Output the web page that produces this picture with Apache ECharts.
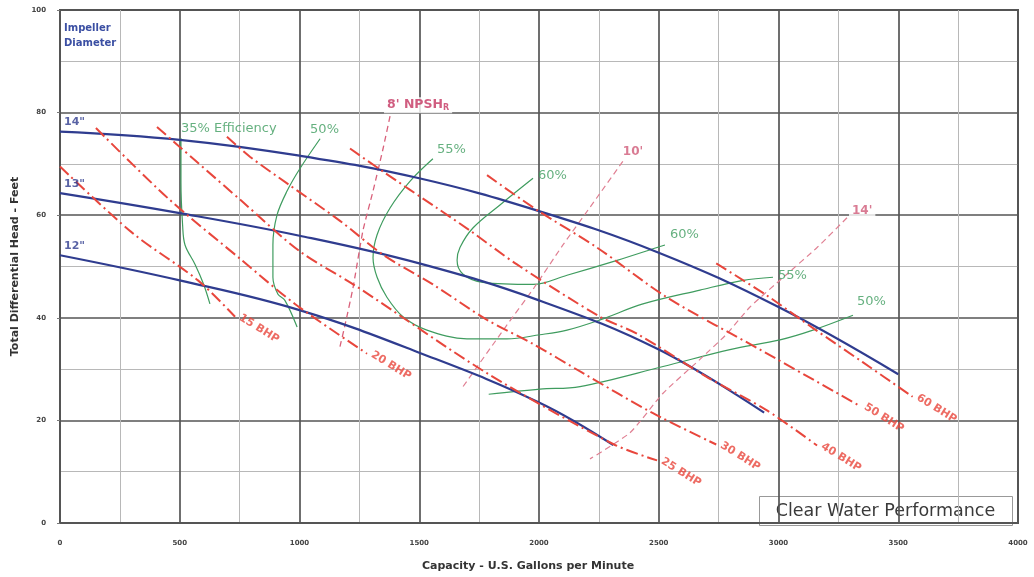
<!DOCTYPE html>
<html><head><meta charset="utf-8">
<script src="https://cdn.jsdelivr.net/npm/echarts/dist/echarts.min.js"></script>
<style>html,body{margin:0;padding:0;background:#fff}#c{width:1034px;height:577px}</style>
</head><body><div id="c"></div><script>
// ---- Impeller diameter head curves [gpm, ft] ----
const imp14 = [[0,76.3],[500,74.7],[1000,71.6],[1500,67.2],[2000,60.8],[2500,52.7],[3000,42.1],[3500,29.0]];
const imp13 = [[0,64.3],[500,60.4],[1000,56.0],[1500,50.6],[2000,43.4],[2500,33.8],[2940,21.5]];
const imp12 = [[0,52.2],[500,47.3],[1000,41.5],[1500,33.2],[2000,23.5],[2310,15.2]];
const impNames = ['14"', '13"', '12"'];

// ---- BHP lines ----
const bhp15 = [[0,69.5],[301,56.6],[576,47.3],[731,40.2]];
const bhp20 = [[150,77.0],[451,63.3],[760,51.2],[981,42.7],[1282,33.0]];
const bhp25 = [[405,77.2],[760,62.7],[1000,53.0],[1232,46.3],[1783,29.2],[2309,15.4],[2493,12.2]];
const bhp30 = [[697,75.3],[793,71.4],[948,66.2],[1169,58.9],[1349,52.3],[1557,46.5],[1783,39.6],[1975,34.9],[2184,29.2],[2476,21.4],[2740,15.3]];
const bhp40 = [[1211,73.0],[1349,68.5],[1574,61.4],[1712,57.0],[1908,50.4],[2255,40.2],[2409,36.9],[2700,28.5],[2950,22.0],[3161,15.1]];
const bhp50 = [[1783,67.8],[1992,61.0],[2242,53.7],[2534,44.0],[2923,33.8],[3340,22.8]];
const bhp60 = [[2740,50.6],[2950,44.4],[3150,37.8],[3350,31.4],[3560,24.6]];
const bhpNames = ['15 BHP','20 BHP','25 BHP','30 BHP','40 BHP','50 BHP','60 BHP'];

// ---- NPSHr lines ----
const npsh8  = [[1378,79.3],[1349,73.0],[1307,64.7],[1265,57.0],[1224,46.0],[1190,38.6],[1169,34.4]];
const npsh10 = [[2350,70.5],[2240,63.3],[2100,54.2],[1980,45.9],[1860,38.2],[1683,26.6]];
const npsh14 = [[3286,59.5],[3161,53.7],[3035,48.5],[2881,42.1],[2785,36.9],[2672,31.9],[2518,25.3],[2380,17.6],[2213,12.5]];

// ---- Efficiency curves ----
const eff35  = [[505,75.0],[505,66.5],[512,58.0],[522,54.2],[564,50.4],[600,46.5],[626,42.7]];
const eff50a = [[1086,74.9],[1002,69.1],[948,64.7],[906,60.0],[889,54.2],[889,47.9],[910,44.6],[939,43.4],[990,38.2]];
const eff50b = [[1790,25.1],[2004,26.1],[2171,26.6],[2518,30.5],[2797,33.8],[3006,35.7],[3144,37.6],[3311,40.5]];
const eff55  = [[1557,71.0],[1461,66.6],[1378,61.4],[1324,56.2],[1307,51.7],[1324,47.9],[1365,44.0],[1432,40.2],[1532,37.6],[1699,35.9],[1866,35.9],[2004,36.7],[2117,37.6],[2255,39.6],[2434,42.7],[2672,45.4],[2852,47.3],[2977,47.9]];
const eff60  = [[1975,67.2],[1837,62.0],[1724,57.5],[1670,53.7],[1658,51.2],[1683,48.5],[1766,46.9],[1975,46.5],[2117,48.3],[2326,51.2],[2493,53.7],[2526,54.2]];

const FONT = '"DejaVu Sans", "Liberation Sans", Arial, sans-serif';
const BLUE = '#2f3c8f', RED = '#e8463c', GREEN = '#3f9c5f', PINK = '#e07f92', CRIMSON = '#c43560';

function curve(data, color, width, type, z, smooth) {
  return {type:'line', data:data, showSymbol:false, symbol:'none', smooth:smooth, z:z, silent:true,
          animation:false, lineStyle:{color:color, width:width, type:type}};
}
function lbl(pt, text, style) {
  return {value: pt, label: Object.assign({show:true, formatter:text, fontFamily:FONT}, style)};
}

const series = [];
[eff35, eff50a, eff50b, eff55, eff60].forEach(c => series.push(curve(c, GREEN, 1.2, 'solid', 1, 0.35)));
series.push(curve(npsh8, '#d9607a', 1.3, [6,4], 1, 0.2));
series.push(curve(npsh10, PINK, 1.2, [6,4], 1, 0.2));
series.push(curve(npsh14, PINK, 1.2, [6,4], 1, 0.2));
[imp14, imp13, imp12].forEach(c => series.push(curve(c, BLUE, 2.2, 'solid', 3, 0.4)));
const bhpCurves = [bhp15, bhp20, bhp25, bhp30, bhp40, bhp50, bhp60];
bhpCurves.forEach(c => series.push(curve(c, RED, 2, [12,4,2,4], 4, 0.3)));

const labels = [];
const impStyle = {position:'top', align:'left', offset:[4,0], distance:4, color:BLUE, fontWeight:'bold', fontSize:11};
[imp14, imp13, imp12].forEach((c,i) => labels.push(lbl(c[0], impNames[i], impStyle)));
bhpCurves.forEach((c,i) => labels.push(lbl(c[c.length-1], bhpNames[i],
  {position:'right', distance:5, rotate:-32, align:'left', verticalAlign:'middle', color:RED, fontWeight:'bold', fontSize:11})));
const effStyle = {color:GREEN, fontSize:13};
labels.push(lbl(eff35[0], '35% Efficiency', Object.assign({position:'top', align:'left', distance:3, offset:[0,0]}, effStyle)));
labels.push(lbl(eff50a[0], '50%', Object.assign({position:'top', align:'left', distance:3, offset:[-10,0]}, effStyle)));
labels.push(lbl(eff55[0], '55%', Object.assign({position:'top', align:'left', distance:3, offset:[4,0]}, effStyle)));
labels.push(lbl(eff60[0], '60%', Object.assign({position:'right', distance:5, offset:[0,-3]}, effStyle)));
labels.push(lbl(eff60[eff60.length-1], '60%', Object.assign({position:'right', distance:5, offset:[0,-10]}, effStyle)));
labels.push(lbl(eff55[eff55.length-1], '55%', Object.assign({position:'right', distance:5, offset:[0,-2]}, effStyle)));
labels.push(lbl(eff50b[eff50b.length-1], '50%', Object.assign({position:'right', distance:4, offset:[0,-14]}, effStyle)));
labels.push(lbl(npsh8[0], "{a|8' NPSH}{s|R}", {position:'top', align:'left', distance:3, offset:[-6,0], backgroundColor:'#fff', padding:[1,3],
  rich:{a:{color:CRIMSON, fontWeight:'bold', fontSize:12.5, fontFamily:FONT}, s:{color:CRIMSON, fontWeight:'bold', fontSize:8, padding:[6,0,0,0], fontFamily:FONT}}}));
labels.push(lbl(npsh10[0], "10'", {position:'top', align:'left', distance:3, offset:[0,0], color:'#d05a78', fontWeight:'bold', fontSize:12}));
labels.push(lbl(npsh14[0], "14'", {position:'right', distance:2, offset:[0,-7], color:'#d05a78', fontWeight:'bold', fontSize:12, backgroundColor:'#fff', padding:[1,3]}));
series.push({type:'scatter', symbolSize:0, z:10, silent:true, animation:false, data:labels});

const chart = echarts.init(document.getElementById('c'), null, {renderer:'canvas'});
chart.setOption({
  animation:false,
  backgroundColor:'#fff',
  grid:{left:60, right:16, top:10, bottom:49, show:true, borderColor:'#555', borderWidth:2, backgroundColor:'#fff'},
  xAxis:{type:'value', min:0, max:4000, interval:500,
    name:'Capacity - U.S. Gallons per Minute', nameLocation:'middle', nameGap:38,
    nameTextStyle:{fontFamily:FONT, fontWeight:'bold', fontSize:11, color:'#333', padding:[0,22,0,0]},
    axisLine:{show:true, lineStyle:{color:'#555', width:2}}, axisTick:{show:false},
    axisLabel:{fontFamily:FONT, fontWeight:'bold', fontSize:7, color:'#444', margin:17, formatter:v => String(v)},
    splitLine:{show:true, lineStyle:{color:'#555', width:1.7}},
    minorTick:{show:false, splitNumber:2}, minorSplitLine:{show:true, lineStyle:{color:'#b8b8b8', width:1}}},
  yAxis:{type:'value', min:0, max:100, interval:20,
    name:'Total Differential Head - Feet', nameLocation:'middle', nameGap:33,
    nameTextStyle:{fontFamily:FONT, fontWeight:'bold', fontSize:11, color:'#333'},
    axisLine:{show:true, lineStyle:{color:'#555', width:2}}, axisTick:{show:true, length:3, lineStyle:{color:'#777'}},
    axisLabel:{fontFamily:FONT, fontWeight:'bold', fontSize:7, color:'#444', margin:14, formatter:v => String(v)},
    splitLine:{show:true, lineStyle:{color:'#555', width:1.7}},
    minorTick:{show:false, splitNumber:2}, minorSplitLine:{show:true, lineStyle:{color:'#b8b8b8', width:1}}},
  graphic:[
    {type:'text', left:64, top:21, z:20, style:{text:'Impeller\nDiameter', fill:'#3b4fa3', font:'bold 10px '+FONT, lineHeight:15}},
    {type:'group', right:21, bottom:51, z:20, children:[
      {type:'rect', shape:{x:0, y:0, width:253, height:29}, style:{fill:'#fff', stroke:'#999', lineWidth:1}},
      {type:'text', x:126, y:15, style:{text:'Clear Water Performance', fill:'#3a3a3a', font:'17.5px '+FONT, align:'center', verticalAlign:'middle'}}
    ]}
  ],
  series:series
});
</script></body></html>
